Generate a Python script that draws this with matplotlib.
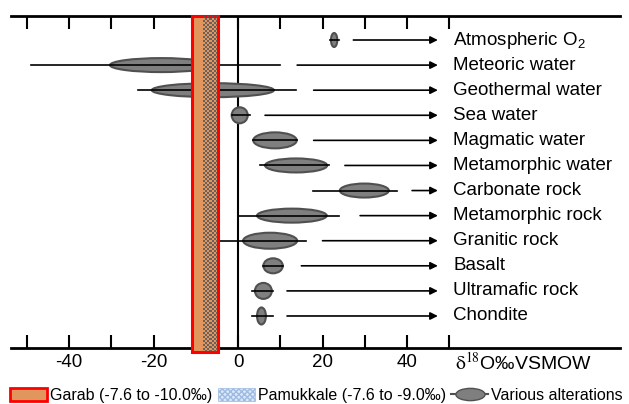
import numpy as np
import matplotlib
matplotlib.use('Agg')
import matplotlib.pyplot as plt
from matplotlib.patches import Ellipse, Rectangle, Patch
from matplotlib.lines import Line2D
from matplotlib.path import Path

plt.rcParams['font.family'] = ['Liberation Sans', 'DejaVu Sans']
plt.rcParams['mathtext.fontset'] = 'custom'
plt.rcParams['mathtext.rm'] = 'Liberation Sans'
plt.rcParams['mathtext.it'] = 'Liberation Sans:italic'

# oxygen isotope reservoirs (delta18O, permil VSMOW)
names = ['Atmospheric O$_2$', 'Meteoric water', 'Geothermal water', 'Sea water',
         'Magmatic water', 'Metamorphic water', 'Carbonate rock', 'Metamorphic rock',
         'Granitic rock', 'Basalt', 'Ultramafic rock', 'Chondite']
ell_lo = [22.0, -30.3, -20.4, -1.5, 3.6, 6.4, 24.1, 4.5, 1.2, 6.0, 4.0, 4.5]
ell_hi = [23.5, -6.0, 8.5, 2.3, 13.9, 21.1, 35.7, 21.0, 14.0, 10.6, 8.0, 6.6]
rng_lo = [21.8, -49.0, -23.7, -1.4, 3.6, 5.2, 17.7, 0.0, -5.0, 6.0, 3.3, 3.3]
rng_hi = [23.8, 10.0, 13.7, 2.8, 13.9, 21.5, 37.6, 24.0, 16.0, 10.6, 8.3, 8.3]
arrow_from = [27.3, 14.0, 17.9, 6.4, 17.9, 25.3, 41.2, 28.9, 20.0, 15.0, 11.6, 11.6]
ell_h = [14, 14, 14, 16, 16, 14, 14, 14, 16, 15, 16, 17]  # px

garab = (-10.8, -4.7)
pamukkale = (-8.3, -4.9)

ticks = [-50, -40, -30, -20, -10, 0, 10, 20, 30, 40, 50]
tick_labels = ['', '-40', '', '-20', '', '0', '', '20', '', '40', '']

PX_ROW = 25.09
fig = plt.figure(figsize=(6.29, 4.04), dpi=100)
ax = fig.add_axes([11/629, 56/404, 609/629, 332/404])

for i in range(len(names)):
    ax.add_patch(Ellipse(((ell_lo[i] + ell_hi[i]) / 2, i), ell_hi[i] - ell_lo[i],
                         ell_h[i] / PX_ROW, fc='#7f7f7f', ec='#505050', lw=1.5, zorder=3))
    ax.plot([rng_lo[i], rng_hi[i]], [i, i], color='black', lw=1.2, zorder=4)
    ax.annotate('', xy=(47.3, i), xytext=(arrow_from[i], i),
                arrowprops=dict(arrowstyle='-|>', mutation_scale=11, lw=1.2,
                                color='black', shrinkA=0, shrinkB=0))
    ax.text(50.9, i, names[i], va='center', ha='left', fontsize=13.5)

ax.axvline(0, color='black', lw=1.5, zorder=2)

# Garab / Pamukkale band
top, bot = -0.957, 12.435
ax.add_patch(Rectangle((garab[0], top), garab[1] - garab[0], bot - top,
                       fc='#E0965C', ec='red', lw=2.2, zorder=5, clip_on=False))
nx, ny = 7, 168
chk = np.zeros((ny, nx, 4))
mask = (np.add.outer(np.arange(ny), np.arange(nx)) % 2) == 0
chk[mask] = [0.30, 0.33, 0.38, 0.8]
ax.imshow(chk, extent=(pamukkale[0], pamukkale[1], bot, top), aspect='auto',
          interpolation='nearest', zorder=6, clip_on=False)

ax.set_xlim(-53.73, 90.41)
ax.set_ylim(12.276, -0.957)
ax.set_yticks([])
for s in ['left', 'right']:
    ax.spines[s].set_visible(False)
for s in ['top', 'bottom']:
    ax.spines[s].set_linewidth(2)
ax.set_xticks(ticks)
ax.set_xticklabels(tick_labels, fontsize=13.5)
ax.tick_params(axis='x', direction='in', top=True, bottom=True, length=9.5,
               width=1.5, pad=4)

ax.text(51.4, 12.87, r'$\mathrm{\delta}^{18}$O‰VSMOW', va='center', ha='left',
        fontsize=14, math_fontfamily='stix', clip_on=False)

# legend
ell = Path.unit_circle()
ell_marker = Path(ell.vertices * [1, 0.42], ell.codes)
handles = [Patch(fc='#E0965C', ec='red', lw=2),
           Patch(fc='#dce9f8', ec='#9fbbe2', hatch='xxxxxx', lw=0.5),
           Line2D([0], [0], color='#505050', lw=1.5, marker=ell_marker, markersize=21,
                  mfc='#7f7f7f', mec='#505050')]
labels = ['Garab (-7.6 to -10.0‰)', 'Pamukkale (-7.6 to -9.0‰)', 'Various alterations']
fig.legend(handles, labels, loc='lower left', bbox_to_anchor=(10/629, 1/404), ncol=3,
           frameon=False, fontsize=11.5, handlelength=2.3, handleheight=0.8,
           handletextpad=0.2, columnspacing=0.35, borderpad=0, borderaxespad=0)

fig.savefig('out.png', dpi=100)
